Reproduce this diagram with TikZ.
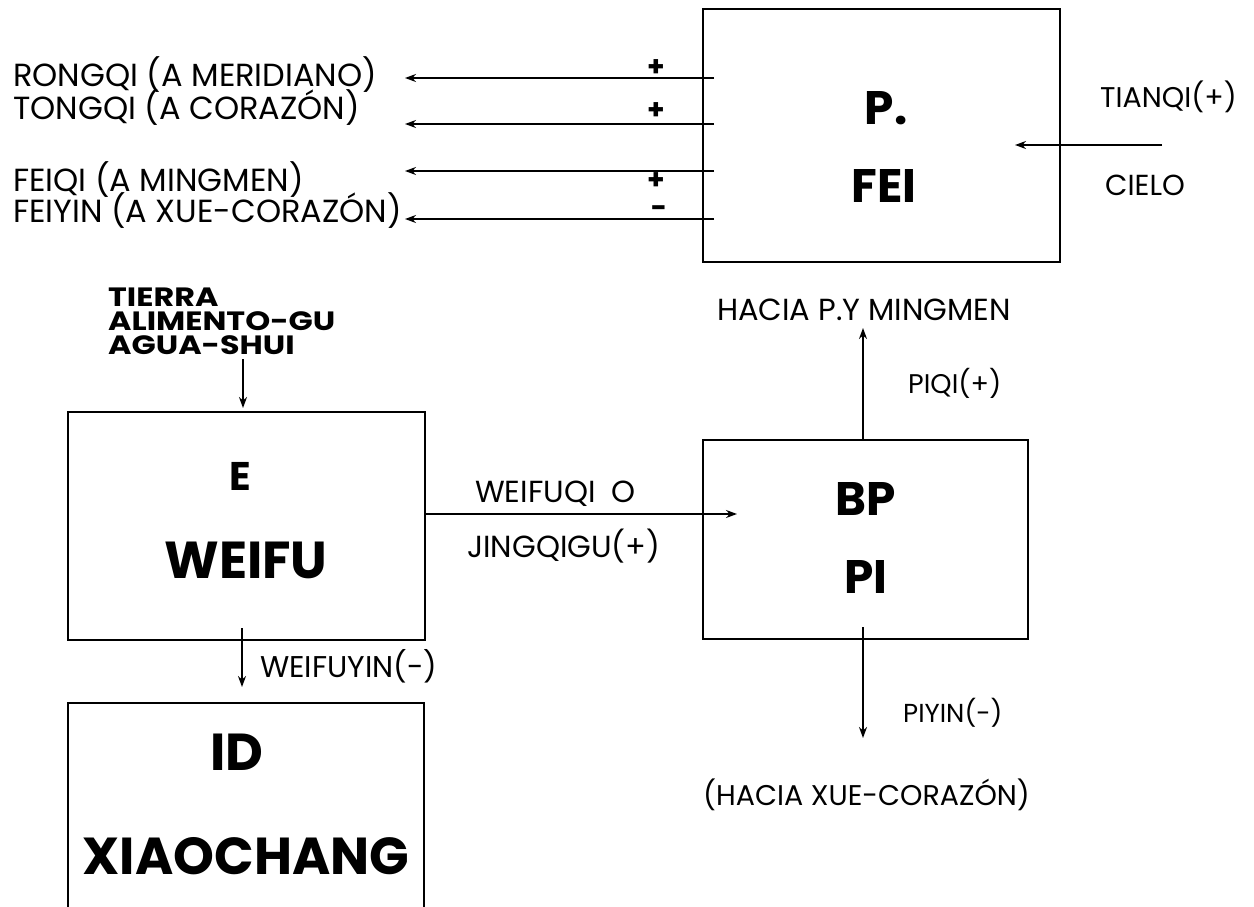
\documentclass[tikz,border=0pt]{standalone}
\usepackage{fontspec}
\usepackage{graphicx}
\setmainfont{Poppins}
\usetikzlibrary{arrows.meta}
\begin{document}
\begin{tikzpicture}[x=1pt,y=-1pt,
  box/.style={draw, line width=2.2pt, inner sep=0pt, outer sep=0pt},
  lbl/.style 2 args={font=\fontsize{#1}{#1}\selectfont, inner sep=0pt, anchor=west, text height=#2pt, text depth=0pt},
  blbl/.style={font=\fontsize{26.5}{27}\selectfont\bfseries, inner sep=0pt, anchor=west, text height=18.6pt, text depth=0pt},
  big/.style 2 args={font=\fontsize{#1}{#1}\selectfont\bfseries, inner sep=0pt, text height=#2pt, text depth=0pt},
  sign/.style={font=\fontsize{28}{28}\selectfont\bfseries, inner sep=0pt},
  arr/.style={line width=1.8pt, -{Stealth[length=11pt,width=8pt]}}]
\clip (0,0) rectangle (1254,907);
\fill[white] (0,0) rectangle (1254,907);
% boxes
\node[box, minimum width=357pt, minimum height=253pt, anchor=north west] (fei) at (703,9) {};
\node[box, minimum width=357pt, minimum height=228pt, anchor=north west] (weifu) at (68,412) {};
\node[box, minimum width=325pt, minimum height=199pt, anchor=north west] (bp) at (703,440) {};
\node[box, minimum width=356pt, minimum height=260pt, anchor=north west] (id) at (68,703) {};
% box labels
\node[big={47}{33}] (tP) at (886,108) {P.};
\node[big={47}{33}] (tFEI) at (884,186) {FEI};
\node[big={40}{28}] (tE) at (240,476) {E};
\node[big={52}{36.4}] (tW) at (246,560) {WEIFU};
\node[big={47}{33}] (tBP) at (866,499) {BP};
\node[big={47}{33}] (tPI) at (866,577) {PI};
\node[big={52}{36.4}] (tID) at (237,752) {ID};
\node[big={52}{36.4}] (tX) at (246,856) {XIAOCHANG};
% left labels
\node[lbl={32}{22.4}] (rong) at (13,75) {RONGQI (A MERIDIANO)};
\node[lbl={32}{22.4}] (tong) at (13,108) {TONGQI (A CORAZÓN)};
\node[lbl={32}{22.4}] (feiqi) at (13,180) {FEIQI (A MINGMEN)};
\node[lbl={32}{22.4}] (feiyin) at (13,211) {FEIYIN (A XUE-CORAZÓN)};
% left arrows
\coordinate (a1s) at (714,78);  \coordinate (a1e) at (405,78);
\coordinate (a2s) at (714,124); \coordinate (a2e) at (405,124);
\coordinate (a3s) at (714,171); \coordinate (a3e) at (405,171);
\coordinate (a4s) at (714,219); \coordinate (a4e) at (405,219);
\draw[arr] (a1s) -- (a1e);
\draw[arr] (a2s) -- (a2e);
\draw[arr] (a3s) -- (a3e);
\draw[arr] (a4s) -- (a4e);
\node[sign] (p1) at (656,68) {+};
\node[sign] (p2) at (656,111) {+};
\node[sign] (p3) at (656,181) {+};
\node[sign] (m4) at (659,212) {-};
% tianqi
\node[lbl={28.5}{20}] (tian) at (1100,97) {TIANQI(+)};
\node[lbl={29}{20.3}] (cielo) at (1105,185) {CIELO};
\coordinate (ts) at (1162,145); \coordinate (te) at (1015,145);
\draw[arr] (ts) -- (te);
% tierra
\node[blbl] (tierra) at (108,297) {\scalebox{1.2}[1]{TIERRA}};
\node[blbl] (alim) at (108,321) {\scalebox{1.2}[1]{ALIMENTO-GU}};
\node[blbl] (agua) at (108,345) {\scalebox{1.2}[1]{AGUA-SHUI}};
\coordinate (gs) at (243,359); \coordinate (ge) at (243,408);
\draw[arr] (gs) -- (ge);
% weifuqi
\node[lbl={30.5}{21.4}] (wq) at (475,492) {WEIFUQI\ \ O};
\node[lbl={30.5}{21.4}] (jq) at (467,547) {JINGQIGU(+)};
\coordinate (wqe) at (737,514);
\draw[arr] (weifu.east |- wqe) -- (wqe);
% up
\node[lbl={30.5}{21.4}] (hacia) at (717,310) {HACIA P.Y MINGMEN};
\node[lbl={27}{18.9}] (piqi) at (908,384) {PIQI(+)};
\coordinate (upe) at (863,328);
\draw[arr] (bp.north -| upe) -- (upe);
% down
\node[lbl={26}{18.2}] (piyin) at (903,713) {PIYIN(-)};
\node[lbl={28.5}{20}] (hx) at (703,795) {(HACIA XUE-CORAZÓN)};
\coordinate (dne) at (863,738);
\draw[arr] ([yshift=12pt]bp.south -| dne) -- (dne);
% weifuyin
\node[lbl={30}{21}] (wy) at (260,667) {WEIFUYIN(-)};
\coordinate (wys) at (242,628); \coordinate (wye) at (242,687);
\draw[arr] (wys) -- (wye);
\end{tikzpicture}
\end{document}
